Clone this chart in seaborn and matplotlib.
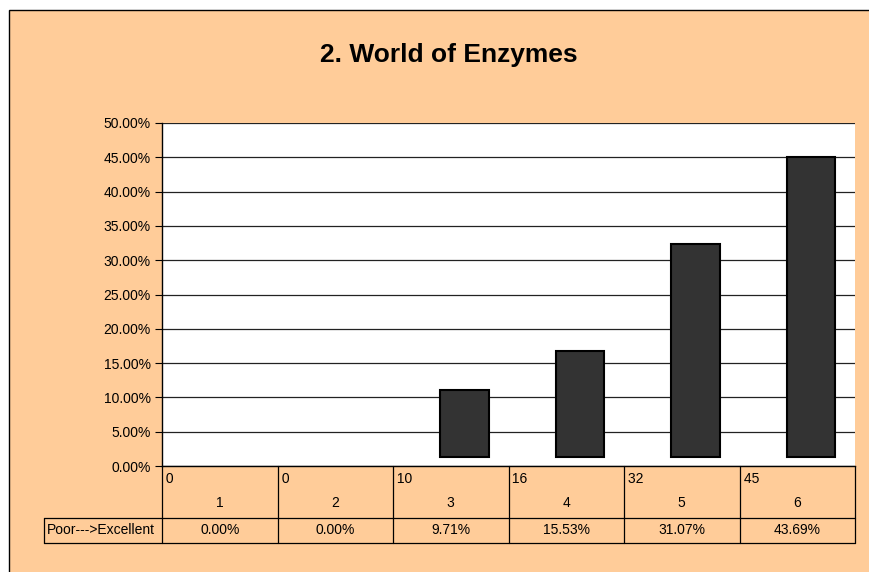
import pandas as pd
import numpy as np
import matplotlib.pyplot as plt
import matplotlib.transforms as mtransforms
from matplotlib.patches import Rectangle
from matplotlib.ticker import FuncFormatter, MultipleLocator
import seaborn as sns

categories = ['1', '2', '3', '4', '5', '6']
counts = [0, 0, 10, 16, 32, 45]
percents = [0.00, 0.00, 9.71, 15.53, 31.07, 43.69]
row_label = 'Poor--->Excellent'
title = '2. World of Enzymes'

df = pd.DataFrame({'rating': categories, 'percent': percents})

sns.set_style('white')
plt.rcParams['font.family'] = ['Liberation Sans', 'DejaVu Sans']
plt.rcParams['text.color'] = 'black'
plt.rcParams['ytick.color'] = 'black'
plt.rcParams['ytick.labelcolor'] = 'black'

peach = '#FFCC99'
W, H = 870, 572
fig = plt.figure(figsize=(8.7, 5.72), dpi=100, facecolor='white')

# peach chart area with black border on the left/top
fig.add_artist(Rectangle((9.5 / W, -0.01), 1.0, 1.01 - 9.5 / H, transform=fig.transFigure,
                         facecolor=peach, edgecolor='black', linewidth=1, zorder=-1))

ax = fig.add_axes([162 / W, 106 / H, 693 / W, 343 / H])
ax.set_facecolor('white')

sns.barplot(data=df, x='rating', y='percent', color='#333333', edgecolor='black',
            linewidth=1.5, width=0.42, saturation=1, ax=ax, zorder=3)

# Excel-style offset of the bars; empty categories draw nothing
for p in ax.patches:
    p.set_x(p.get_x() + 0.12)
    p.set_y(1.3)
    if p.get_height() == 0:
        p.set_visible(False)

ax.set_xlim(-0.5, 5.5)
ax.set_ylim(0, 50)
ax.yaxis.set_major_locator(MultipleLocator(5))
ax.yaxis.set_major_formatter(FuncFormatter(lambda v, _: f'{v:.2f}%'))
ax.grid(axis='y', color='#222222', linewidth=0.9, zorder=0)
ax.set_axisbelow(True)
ax.tick_params(axis='y', direction='out', length=5, width=0.8, color='black',
               labelsize=10, labelcolor='black', pad=3, left=True)
ax.tick_params(axis='x', bottom=False, labelbottom=False)
ax.set_xlabel('')
ax.set_ylabel('')
for s in ['top', 'right']:
    ax.spines[s].set_visible(False)
for s in ['left', 'bottom']:
    ax.spines[s].set_color('black')
    ax.spines[s].set_linewidth(1.0)

fig.text(449 / W, 1 - 55 / H, title, ha='center', va='center',
         fontsize=19, fontweight='bold', color='black')

# data table under the axis
trans = mtransforms.blended_transform_factory(ax.transData, fig.transFigure)
y_top, y_mid, y_bot = 106 / H, 54 / H, 29 / H
x_left = 44 / W

for yy in [y_mid, y_bot]:
    fig.add_artist(plt.Line2D([x_left, 855 / W], [yy, yy], transform=fig.transFigure,
                              color='black', lw=0.9))
fig.add_artist(plt.Line2D([x_left, x_left], [y_mid, y_bot], transform=fig.transFigure,
                          color='black', lw=0.9))
for i in range(len(categories) + 1):
    xb = i - 0.5
    fig.add_artist(plt.Line2D([xb, xb], [y_top, y_bot], transform=trans,
                              color='black', lw=0.9, clip_on=False))

for i, (cat, n, pct) in enumerate(zip(categories, counts, percents)):
    fig.text(i - 0.5, 1 - 479 / H, f' {n}', transform=trans, ha='left', va='center', fontsize=10)
    fig.text(i, 1 - 503 / H, cat, transform=trans, ha='center', va='center', fontsize=10)
    fig.text(i, 1 - 530 / H, f'{pct:.2f}%', transform=trans, ha='center', va='center', fontsize=10)

fig.text(47 / W, 1 - 530 / H, row_label, ha='left', va='center', fontsize=10)

fig.savefig('out.png', dpi=100)
plt.close(fig)
